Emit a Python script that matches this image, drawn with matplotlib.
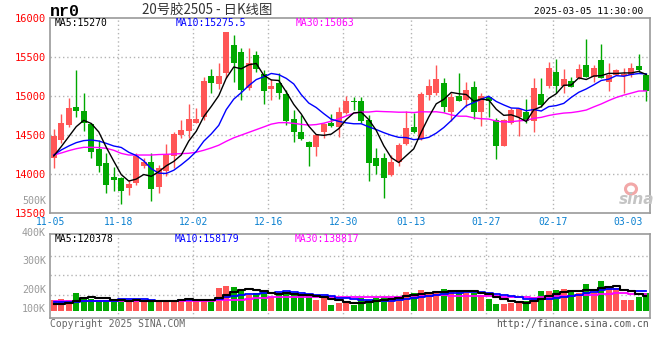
import numpy as np
import pandas as pd
import matplotlib
matplotlib.use("Agg")
import matplotlib.pyplot as plt
from matplotlib.patches import Ellipse

# ---------------- data ----------------
DATES = ["11-05", "11-06", "11-07", "11-08", "11-11", "11-12", "11-13", "11-14", "11-15",
         "11-18", "11-19", "11-20", "11-21", "11-22", "11-25", "11-26", "11-27", "11-28", "11-29",
         "12-02", "12-03", "12-04", "12-05", "12-06", "12-09", "12-10", "12-11", "12-12", "12-13",
         "12-16", "12-17", "12-18", "12-19", "12-20", "12-23", "12-24", "12-25", "12-26", "12-27",
         "12-30", "12-31", "01-02", "01-03", "01-06", "01-07", "01-08", "01-09", "01-10",
         "01-13", "01-14", "01-15", "01-16", "01-17", "01-20", "01-21", "01-22", "01-23", "01-24",
         "01-27", "02-05", "02-06", "02-07", "02-10", "02-11", "02-12", "02-13", "02-14",
         "02-17", "02-18", "02-19", "02-20", "02-21", "02-24", "02-25", "02-26", "02-27", "02-28",
         "03-03", "03-04", "03-05"]

OPEN = [14202, 14437, 14630, 14857, 14810, 14639, 14317, 14137, 13962, 13949,
        13825, 13889, 14107, 14154, 13837, 14043, 14232, 14501, 14557, 14660,
        14728, 15260, 15153, 15298, 15658, 15573, 15101, 15530, 15285, 15093,
        15174, 15028, 14703, 14544, 14411, 14351, 14544, 14660, 14609, 14788,
        14938, 14938, 14694, 14210, 14210, 13987, 14159, 14386, 14604, 14446,
        15015, 15038, 15167, 14803, 15008, 14953, 15115, 14791, 14987, 14697,
        14363, 14654, 14731, 14803, 14675, 15030, 15132, 15308, 15132, 15197,
        15239, 15402, 15252, 15466, 15188, 15273, 15261, 15273, 15389, 15273]
HIGH = [14579, 14771, 14973, 15337, 15045, 14650, 14437, 14266, 14094, 13966,
        13923, 14266, 14202, 14266, 14116, 14386, 14544, 14694, 14900, 14844,
        15251, 15345, 15422, 15830, 15787, 15615, 15615, 15585, 15337, 15217,
        15302, 15080, 14823, 14758, 14420, 14514, 14660, 14771, 14866, 15003,
        14994, 14994, 14758, 14330, 14274, 14244, 14394, 14814, 14780, 15058,
        15217, 15402, 15231, 15038, 15295, 15188, 15201, 15047, 14996, 14718,
        14705, 14846, 14846, 14961, 15231, 15231, 15436, 15474, 15346, 15252,
        15410, 15731, 15402, 15671, 15432, 15346, 15359, 15432, 15543, 15295]
LOW = [14073, 14394, 14609, 14737, 14557, 14202, 14030, 13760, 13782, 13615,
       13730, 13859, 14073, 13658, 13760, 13975, 14073, 14458, 14458, 14651,
       14694, 15045, 15088, 15230, 15187, 14951, 15080, 15315, 14900, 14951,
       14960, 14630, 14416, 14437, 14103, 14232, 14458, 14609, 14471, 14771,
       14823, 14651, 13915, 14000, 13696, 13975, 14103, 14373, 14523, 14437,
       14951, 15017, 14803, 14675, 14932, 14867, 14705, 14611, 14731, 14192,
       14355, 14645, 14491, 14654, 14534, 14867, 15103, 15047, 15038, 15115,
       15218, 15252, 15188, 15231, 15073, 15273, 15038, 15252, 15316, 14932]
CLOSE = [14489, 14651, 14844, 14814, 14651, 14287, 14107, 13859, 13923, 13786,
         13872, 14232, 14154, 13807, 14081, 14253, 14514, 14566, 14703, 14711,
         15195, 15165, 15260, 15825, 15431, 15080, 15422, 15345, 15067, 15131,
         15045, 14686, 14544, 14450, 14351, 14501, 14639, 14621, 14801, 14938,
         14926, 14686, 14146, 14107, 13953, 14159, 14373, 14587, 14544, 15028,
         15131, 15222, 14867, 14996, 14944, 15081, 14791, 15004, 14932, 14355,
         14688, 14825, 14833, 14675, 15103, 14889, 15359, 15132, 15218, 15124,
         15346, 15252, 15359, 15239, 15273, 15338, 15286, 15359, 15338, 15073]
VOLUME = [88000, 96000, 88000, 147000, 114000, 96000, 80000, 85000, 80000, 85000,
          83000, 88000, 69000, 80000, 88000, 88000, 88000, 99000, 107000, 78000,
          78000, 88000, 186000, 203000, 195000, 168000, 128000, 147000, 155000, 114000,
          147000, 141000, 128000, 120000, 120000, 88000, 102000, 48000, 66000, 61000,
          48000, 102000, 88000, 107000, 114000, 88000, 120000, 152000, 147000, 168000,
          136000, 147000, 176000, 168000, 160000, 141000, 141000, 128000, 96000, 56000,
          56000, 66000, 75000, 80000, 112000, 160000, 160000, 168000, 176000, 152000,
          147000, 216000, 147000, 240000, 200000, 181000, 88000, 88000, 114000, 141000]

MA5_EARLY = [14232, 14352, 14480, 14609]
MA10_EARLY = [14244, 14309, 14360, 14403, 14429, 14437, 14424, 14394, 14360]
MA30_EARLY = [14244, 14270, 14300, 14325, 14343, 14343, 14340, 14330, 14305, 14265,
              14244, 14244, 14244, 14244, 14250, 14253, 14257, 14262, 14266, 14280,
              14305, 14335, 14370, 14420, 14465, 14500, 14535, 14570, 14605]
VMA5_EARLY = [56000, 59000, 67000, 80000]
VMA10_EARLY = [75000, 75000, 75000, 75000, 83000, 83000, 83000, 83000, 83000]
VMA30_EARLY = [83000, 83000, 83000, 83000, 83000, 83000, 83000, 83000, 83000, 83000,
               83000, 83000, 83000, 83000, 83000, 83000, 83000, 83000, 83000, 83000,
               83000, 83000, 88000, 88000, 88000, 88000, 100000, 104000, 107000]

PRICE_TICKS = [13500, 14000, 14500, 15000, 15500, 16000]
X_LABELS = ["11-05", "11-18", "12-02", "12-16", "12-30", "01-13", "01-27", "02-17", "03-03"]
GRID_DATES = ["11-18", "12-02", "12-16", "12-30", "01-13", "01-27", "02-17"]
VOL_TICK_LABELS = ["100K", "200K", "300K", "400K", "500K"]
MA_LABELS = ["MA5:15270", "MA10:15275.5", "MA30:15063"]
VOL_MA_LABELS = ["MA5:120378", "MA10:158179", "MA30:138817"]
SYMBOL = "nr0"
TITLE = "20号胶2505 - 日K线图"
TIMESTAMP = "2025-03-05 11:30:00"

# ---------------- style ----------------
W, H = 660, 360
RED = "#ff5656"
GREEN = "#00a800"
MA_COLORS = ["#000000", "#0000ff", "#ff00ff"]
GRID_C = "#b4b4b4"
SPINE_C = "#9a9a9a"
MONO = "DejaVu Sans Mono"

def fx(px):
    return px / W

def fy(py):
    return 1 - py / H

fig = plt.figure(figsize=(W / 100, H / 100), dpi=100)
fig.patch.set_facecolor("white")

ax = fig.add_axes([fx(50), fy(212.9), 600 / W, (212.9 - 18.4) / H])
vax = fig.add_axes([fx(50), fy(318), 600 / W, (318 - 234.3) / H])

n = len(DATES)
x = np.arange(n)
o = np.array(OPEN, float)
h = np.array(HIGH, float)
l = np.array(LOW, float)
c = np.array(CLOSE, float)
v = np.array(VOLUME, float)
cols = np.where(c >= o, RED, GREEN)

grid_x = [DATES.index(d) - 0.4 for d in GRID_DATES]

# ---------------- main price panel ----------------
for gx in grid_x:
    ax.axvline(gx, color=GRID_C, lw=1, ls=(0, (1, 2)), zorder=0)
for gy in PRICE_TICKS[1:-1]:
    ax.axhline(gy, color=GRID_C, lw=1, ls=(0, (1, 2)), zorder=0)

ax.vlines(x, l, h, colors=cols, lw=1, zorder=2)
ax.bar(x, np.maximum(np.abs(c - o), 9), bottom=np.minimum(o, c), width=0.8,
       color=cols, lw=0, zorder=3)

close = pd.Series(c)
ma5 = close.rolling(5).mean().to_numpy()
ma5[:4] = MA5_EARLY
ma10 = close.rolling(10).mean().to_numpy()
ma10[:9] = MA10_EARLY
ma30 = close.rolling(30).mean().to_numpy()
ma30[:29] = MA30_EARLY
for series, col in zip([ma30, ma10, ma5], MA_COLORS[::-1]):
    ax.plot(x, series, color=col, lw=1, zorder=4)

ax.set_xlim(-0.5, n - 0.5)
ax.set_ylim(PRICE_TICKS[0], PRICE_TICKS[-1])
ax.set_yticks(PRICE_TICKS)
ax.set_yticklabels([str(t) for t in PRICE_TICKS], color="#ff0000", family=MONO, fontsize=7.5)
ax.set_xticks([DATES.index(d) - 0.4 for d in X_LABELS])
ax.set_xticklabels(X_LABELS, color="#0a80d0", family=MONO, fontsize=7)
ax.tick_params(axis="both", length=0)
ax.tick_params(axis="y", pad=3)
ax.tick_params(axis="x", pad=3)
for sp in ax.spines.values():
    sp.set_color(SPINE_C)
    sp.set_linewidth(1.2)

# ---------------- volume panel ----------------
for gx in grid_x:
    vax.axvline(gx, color=GRID_C, lw=1, ls=(0, (1, 2)), zorder=0)
for gy in [128000, 285000, 442000]:
    vax.axhline(gy, color=GRID_C, lw=1, ls=(0, (1, 2)), zorder=0)

vax.bar(x, v, width=0.8, color=cols, lw=0, zorder=2)
vol = pd.Series(v)
vma5 = vol.rolling(5).mean().to_numpy()
vma5[:4] = VMA5_EARLY
vma10 = vol.rolling(10).mean().to_numpy()
vma10[:9] = VMA10_EARLY
vma30 = vol.rolling(30).mean().to_numpy()
vma30[:29] = VMA30_EARLY
vax.plot(x, vma30, color=MA_COLORS[2], lw=1.3, drawstyle="steps-mid", zorder=3)
vax.plot(x, vma10, color=MA_COLORS[1], lw=1.3, drawstyle="steps-mid", zorder=4)
vax.plot(x, vma5, color=MA_COLORS[0], lw=1.5, drawstyle="steps-mid", zorder=5)
vax.set_xlim(-0.5, n - 0.5)
vax.set_ylim(-56000, 614000)
vax.set_xticks([])
vax.set_yticks([])
for sp in vax.spines.values():
    sp.set_color(SPINE_C)
    sp.set_linewidth(1.2)

for lab, py in zip(VOL_TICK_LABELS, [309.3, 290, 260.7, 232.5, 201]):
    fig.text(fx(46), fy(py), lab, ha="right", va="center", color="#9a9a9a",
             family=MONO, fontsize=7.2)

# ---------------- header / labels ----------------
fig.text(fx(50), fy(12), SYMBOL, ha="left", va="center", family="Liberation Mono",
         fontweight="bold", fontsize=12, color="#000000")
fig.text(fx(142), fy(10), TITLE, ha="left", va="center",
         family=["Noto Sans CJK SC", "DejaVu Sans"], fontsize=9.6, color="#333333")
fig.text(fx(643), fy(12), TIMESTAMP, ha="right", va="center", family=MONO,
         fontsize=6.8, color="#000000")

for lab, px, col in zip(MA_LABELS, [55, 176, 296], MA_COLORS):
    fig.text(fx(px), fy(23.5), lab, ha="left", va="center", family=MONO,
             fontsize=7, color=col)
for lab, px, col in zip(VOL_MA_LABELS, [55, 175, 295], MA_COLORS):
    fig.text(fx(px), fy(238.5), lab, ha="left", va="center", family=MONO,
             fontsize=7, color=col)

fig.text(fx(50), fy(324), "Copyright 2025 SINA.COM", ha="left", va="center",
         family=MONO, fontsize=7, color="#666666")
fig.text(fx(649), fy(324), "http://finance.sina.com.cn", ha="right", va="center",
         family=MONO, fontsize=7, color="#555555")

# sina watermark
fig.patches.append(Ellipse((fx(631), fy(189)), 11 / W, 10 / H, transform=fig.transFigure,
                           facecolor="none", edgecolor="#f2a8a8", lw=2.2))
fig.text(fx(637), fy(199), "sina", ha="center", va="center", family="DejaVu Sans",
         fontstyle="italic", fontweight="bold", fontsize=11, color="#c4c4c4")

fig.savefig("out.png", dpi=100, facecolor="white")
